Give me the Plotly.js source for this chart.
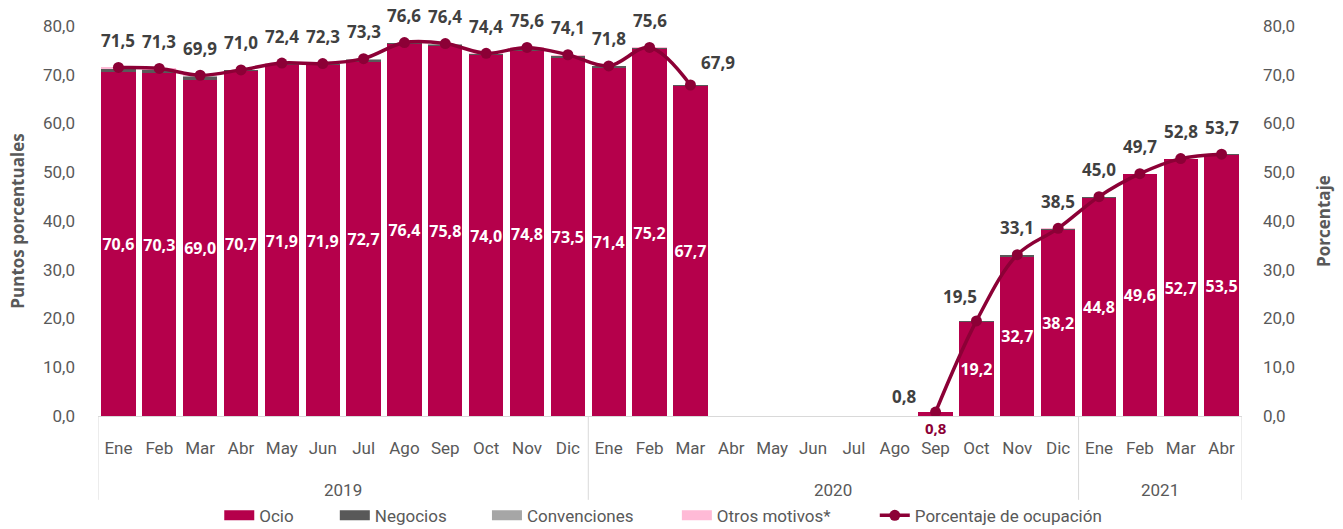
<!DOCTYPE html>
<html><head><meta charset="utf-8">
<script src="https://cdn.plot.ly/plotly-3.0.1.min.js"></script>
<style>html,body{margin:0;padding:0;background:#fff}#chart{width:1343px;height:529px}</style>
</head><body><div id="chart"></div>
<script>
const years = ['2019','2019','2019','2019','2019','2019','2019','2019','2019','2019','2019','2019',
               '2020','2020','2020','2020','2020','2020','2020','2020','2020','2020','2020','2020',
               '2021','2021','2021','2021'];
const months = ['Ene','Feb','Mar','Abr','May','Jun','Jul','Ago','Sep','Oct','Nov','Dic',
                'Ene','Feb','Mar','Abr','May','Jun','Jul','Ago','Sep','Oct','Nov','Dic',
                'Ene','Feb','Mar','Abr'];
const ocio = [70.6,70.3,69.0,70.7,71.9,71.9,72.7,76.4,75.8,74.0,74.8,73.5,
              71.4,75.2,67.7,null,null,null,null,null,0.8,19.2,32.7,38.2,
              44.8,49.6,52.7,53.5];
const negocios = [0.5,0.6,0.6,0.2,0.3,0.3,0.4,0.1,0.4,0.3,0.5,0.3,
                  0.3,0.3,0.1,null,null,null,null,null,0.0,0.3,0.3,0.2,
                  0.1,0.1,0.1,0.2];
const convenciones = [0.1,0.1,0.1,0.0,0.1,0.0,0.1,0.0,0.1,0.0,0.1,0.0,
                      0.0,0.0,0.0,null,null,null,null,null,0.0,0.0,0.0,0.0,
                      0.0,0.0,0.0,0.0];
const otros = [0.3,0.3,0.2,0.1,0.1,0.1,0.1,0.1,0.1,0.1,0.2,0.3,
               0.1,0.1,0.1,null,null,null,null,null,0.0,0.0,0.1,0.1,
               0.1,0.0,0.0,0.0];
const ocupacion = [71.5,71.3,69.9,71.0,72.4,72.3,73.3,76.6,76.4,74.4,75.6,74.1,
                   71.8,75.6,67.9,null,null,null,null,null,0.8,19.5,33.1,38.5,
                   45.0,49.7,52.8,53.7];

const fmt = v => v.toFixed(1).replace('.', ',');
const idx = months.map((_, i) => i);
const C_OCIO = '#b5004b', C_NEG = '#595959', C_CONV = '#a6a6a6', C_OTROS = '#ffbad6', C_LINE = '#8c0036';
const gray = '#595959';
const FAM = 'Roboto, Open Sans, sans-serif';

const ocioText = ocio.map(v => (v === null || v < 5) ? '' : fmt(v));

const traces = [
  {type:'bar', x:idx, y:ocio, name:'Ocio', marker:{color:C_OCIO}, showlegend:false,
   text:ocioText, textposition:'inside', insidetextanchor:'middle', textangle:0, constraintext:'none',
   textfont:{color:'#ffffff', size:16, family:'Open Sans, sans-serif', weight:'bold'}, hoverinfo:'y'},
  {type:'bar', x:idx, y:negocios, name:'Negocios', marker:{color:C_NEG}, showlegend:false, hoverinfo:'y'},
  {type:'bar', x:idx, y:convenciones, name:'Convenciones', marker:{color:C_CONV}, showlegend:false, hoverinfo:'y'},
  {type:'bar', x:idx, y:otros, name:'Otros motivos*', marker:{color:C_OTROS}, showlegend:false, hoverinfo:'y'},
  {type:'scatter', mode:'lines+markers', x:idx, y:ocupacion, yaxis:'y2', name:'Porcentaje de ocupación',
   line:{color:C_LINE, width:3.5, shape:'spline', smoothing:1}, marker:{color:C_LINE, size:11},
   connectgaps:false, showlegend:false},
];
// legend-only entries with wide swatches, each in its own legend box
const legendIds = ['legend','legend2','legend3','legend4','legend5'];
const legendX = [0.106, 0.207, 0.340, 0.506, 0.679];
const legendItems = [['Ocio',C_OCIO],['Negocios',C_NEG],['Convenciones',C_CONV],['Otros motivos*',C_OTROS]];
legendItems.forEach(([n,c], k) => traces.push({type:'scatter', mode:'lines', x:[null], y:[null], name:n,
  legend:legendIds[k], line:{color:c, width:14}, hoverinfo:'skip'}));
traces.push({type:'scatter', mode:'lines+markers', x:[null], y:[null], yaxis:'y2', name:'Porcentaje de ocupación',
  legend:legendIds[4], line:{color:C_LINE, width:3.5}, marker:{color:C_LINE, size:11}, hoverinfo:'skip'});

const annotations = [];
ocupacion.forEach((v, i) => {
  if (v === null) return;
  let xs = 0, ys = 27;
  if (months[i] === 'Sep' && years[i] === '2020') { xs = -31; ys = 16; }
  if (months[i] === 'Mar' && years[i] === '2020') { xs = 28; ys = 22; }
  if (months[i] === 'Oct' && years[i] === '2020') { xs = -16; ys = 24; }
  annotations.push({x:i, y:v, xref:'x', yref:'y2', text:fmt(v), showarrow:false, xshift:xs, yshift:ys,
    font:{size:17, color:'#404040', family:'Open Sans, sans-serif', weight:'bold'}});
});
ocio.forEach((v, i) => {
  if (v !== null && v < 5) {
    annotations.push({x:i, y:0, xref:'x', yref:'y', text:fmt(v), showarrow:false, yshift:-12,
      font:{size:15, color:C_LINE, family:'Open Sans, sans-serif', weight:'bold'}});
  }
});

// year groups: labels and dividers from the years array
const shapes = [];
const groups = [];
years.forEach((y, i) => {
  if (i === 0 || years[i-1] !== y) groups.push({year:y, start:i, end:i});
  else groups[groups.length-1].end = i;
});
groups.forEach((g, k) => {
  annotations.push({x:(g.start + g.end) / 2, y:-0.19, xref:'x', yref:'paper', text:g.year, showarrow:false,
    yanchor:'middle', font:{size:17, color:gray, family:FAM}});
  if (k === 0) shapes.push({type:'line', xref:'x', yref:'paper', x0:g.start-0.5, x1:g.start-0.5, y0:0, y1:-0.215,
    line:{color:'#d9d9d9', width:1}});
  shapes.push({type:'line', xref:'x', yref:'paper', x0:g.end+0.5, x1:g.end+0.5, y0:0, y1:-0.215,
    line:{color:'#d9d9d9', width:1}});
});

const tickFont = {size:17, color:gray, family:FAM};
const layout = {
  width:1343, height:529,
  margin:{l:98, r:101, t:26, b:113},
  barmode:'stack', bargap:0.16,
  separators:',.',
  paper_bgcolor:'#ffffff', plot_bgcolor:'#ffffff',
  font:{family:FAM, color:gray},
  xaxis:{type:'linear', range:[-0.5, months.length-0.5], tickmode:'array', tickvals:idx, ticktext:months,
         tickfont:tickFont, showline:true, linecolor:'#d9d9d9', linewidth:1, ticks:'', showgrid:false,
         zeroline:false, tickangle:0, ticklabelstandoff:17, automargin:false},
  yaxis:{range:[0,80], dtick:10, tickformat:'.1f', tickfont:tickFont, showgrid:false, zeroline:false,
         showline:false, ticklabelstandoff:22, automargin:false,
         title:{text:'Puntos porcentuales', font:{size:17, color:gray, weight:'bold', family:'Open Sans, sans-serif'}, standoff:14}},
  yaxis2:{range:[0,80], dtick:10, tickformat:'.1f', tickfont:tickFont, overlaying:'y', side:'right',
          showgrid:false, zeroline:false, showline:false, ticklabelstandoff:20, automargin:false,
          title:{text:'Porcentaje', font:{size:17, color:gray, weight:'bold', family:'Open Sans, sans-serif'}, standoff:24}},
  annotations:annotations,
  shapes:shapes,
  showlegend:true
};
legendIds.forEach((id, k) => {
  layout[id] = {orientation:'h', x:legendX[k], xanchor:'left', xref:'paper', yref:'container', y:0.025,
                yanchor:'middle', font:{size:17, color:gray, family:FAM}, bgcolor:'rgba(0,0,0,0)'};
});
Plotly.newPlot('chart', traces, layout, {displayModeBar:false, staticPlot:true});
</script></body></html>
